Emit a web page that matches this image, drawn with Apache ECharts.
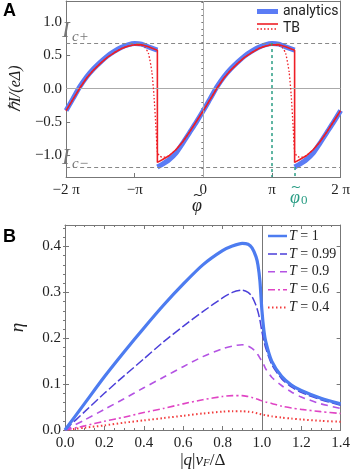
<!DOCTYPE html>
<html><head><meta charset="utf-8">
<script src="https://cdn.jsdelivr.net/npm/echarts@6/dist/echarts.min.js"></script>
<style>html,body{margin:0;padding:0;background:#fff}#c{width:353px;height:474px}</style>
</head><body><div id="c"></div>
<script>
// ---------- Panel A data (phase in units of pi) ----------
const phiTicksA = [-2, -1, 0, 1, 2];
const phiTickLabelsA = ['\u22122 \u03c0', '\u2212\u03c0', '0', '\u03c0', '2 \u03c0'];
const IcPlus = 0.687;
const IcMinus = -1.18;
const phi0 = 1.337;

const phiAnalytics = [-2,-1.9,-1.8,-1.7,-1.6,-1.5,-1.4,-1.3,-1.2,-1.1,-1.0,-0.9,-0.8,-0.67,
  -0.67,
  -0.67,-0.6,-0.5,-0.4,-0.3,-0.2,-0.1,0,0.1,0.2,0.3,0.4,0.5,0.6,0.7,0.8,0.9,1.0,1.1,1.2,1.33,
  1.33,
  1.33,1.4,1.5,1.6,1.7,1.8,1.9,2.0];
const analytics = [-0.33,-0.15,0.03,0.18,0.30,0.40,0.49,0.56,0.62,0.66,0.68,0.67,0.63,0.58,
  null,
  -1.18,-1.14,-1.07,-0.97,-0.82,-0.66,-0.50,-0.33,-0.15,0.03,0.18,0.30,0.40,0.49,0.56,0.62,0.66,0.68,0.67,0.63,0.58,
  null,
  -1.18,-1.14,-1.07,-0.97,-0.82,-0.66,-0.50,-0.33];

const phiTB = [-2,-1.9,-1.8,-1.7,-1.6,-1.5,-1.4,-1.3,-1.2,-1.1,-1.0,-0.9,-0.8,-0.67,
  -0.67,-0.6,-0.5,-0.4,-0.3,-0.2,-0.1,0,0.1,0.2,0.3,0.4,0.5,0.6,0.7,0.8,0.9,1.0,1.1,1.2,1.33,
  1.33,1.4,1.5,1.6,1.7,1.8,1.9,2.0];
const tbSolid = [-0.33,-0.16,0.01,0.16,0.28,0.38,0.47,0.54,0.60,0.64,0.66,0.66,0.63,0.58,
  -1.11,-1.07,-1.01,-0.92,-0.80,-0.65,-0.49,-0.33,-0.16,0.01,0.16,0.28,0.38,0.47,0.54,0.60,0.64,0.66,0.66,0.63,0.58,
  -1.11,-1.07,-1.01,-0.92,-0.80,-0.65,-0.49,-0.33];

const phiTBdot = [-2,-1.9,-1.8,-1.7,-1.6,-1.5,-1.4,-1.3,-1.2,-1.1,-1.0,-0.9,-0.85,-0.8,-0.75,-0.72,-0.69,-0.67,-0.64,-0.6,-0.55,-0.5,
  -0.4,-0.3,-0.2,-0.1,0,0.1,0.2,0.3,0.4,0.5,0.6,0.7,0.8,0.9,1.0,1.1,1.15,1.2,1.25,1.28,1.31,1.33,1.36,1.4,1.45,1.5,
  1.6,1.7,1.8,1.9,2.0];
const tbDotted = [-0.33,-0.16,0.01,0.16,0.28,0.38,0.47,0.54,0.60,0.64,0.66,0.65,0.62,0.53,0.25,-0.10,-0.60,-0.95,-1.01,-1.03,-1.03,-1.01,
  -0.92,-0.80,-0.65,-0.49,-0.33,-0.16,0.01,0.16,0.28,0.38,0.47,0.54,0.60,0.64,0.66,0.65,0.62,0.53,0.25,-0.10,-0.60,-0.95,-1.01,-1.03,-1.03,-1.01,
  -0.92,-0.80,-0.65,-0.49,-0.33];

// ---------- Panel B data ----------
const q = [0,0.1,0.2,0.3,0.4,0.5,0.6,0.7,0.8,0.85,0.9,0.93,0.95,0.97,0.98,0.99,1.0,1.01,1.02,1.05,1.1,1.15,1.2,1.3,1.4];
const etaT1   = [0,0.058,0.116,0.170,0.222,0.272,0.318,0.360,0.391,0.401,0.407,0.405,0.397,0.378,0.360,0.325,0.262,0.218,0.192,0.150,0.117,0.098,0.086,0.069,0.057];
const etaT099 = [0,0.040,0.080,0.118,0.155,0.192,0.226,0.258,0.288,0.300,0.305,0.300,0.291,0.272,0.258,0.240,0.215,0.195,0.178,0.143,0.112,0.094,0.082,0.066,0.054];
const etaT09  = [0,0.022,0.045,0.068,0.092,0.115,0.138,0.160,0.177,0.183,0.186,0.183,0.178,0.170,0.164,0.157,0.150,0.142,0.133,0.115,0.097,0.083,0.072,0.057,0.047];
const etaT06  = [0,0.009,0.019,0.028,0.038,0.047,0.057,0.066,0.073,0.075,0.075,0.073,0.071,0.068,0.067,0.065,0.064,0.062,0.061,0.058,0.052,0.048,0.045,0.040,0.036];
const etaT04  = [0,0.005,0.010,0.016,0.021,0.026,0.031,0.036,0.040,0.041,0.041,0.040,0.039,0.037,0.036,0.035,0.034,0.033,0.032,0.030,0.027,0.025,0.023,0.020,0.018];
const legendB = ['1', '0.99', '0.9', '0.6', '0.4'];

// ---------- styles ----------
const SERIF = 'Liberation Serif';
const AX = '#777';
const BLUE = '#5b7cf5';
const RED = '#ee1f26';
const GREEN = '#2a9d84';
const colorsB = ['#4d7cf0', '#4b3fd9', '#b453e3', '#e044c4', '#f23c3c'];
const dashB = ['solid', [9, 3], [7, 5], [7, 3, 2, 3], [1.5, 2.5]];
const widthB = [3.2, 1.5, 1.6, 1.6, 2];

const pairs = (xs, ys) => xs.map((x, i) => [x, ys[i] === null ? '-' : ys[i]]);
const minus = s => String(s).replace('-', '\u2212');
const range = (a, b, s) => { const r = []; for (let v = a; v <= b + 1e-9; v += s) r.push(+v.toFixed(4)); return r; };

const majorA = [-1, -0.5, 0, 0.5, 1];
const minorA = range(-1.3, 1.3, 0.1);
const majorB = [0, 0.1, 0.2, 0.3, 0.4];
const minorB = range(0, 0.44, 0.02);

const tickLbl = { fontFamily: SERIF, fontSize: 15, color: '#222' };
const hide = { show: false };

function yAx(grid, min, max, opts) {
  return Object.assign({ gridIndex: grid, type: 'value', min: min, max: max,
    axisLine: { show: false }, axisTick: hide, axisLabel: hide, splitLine: hide }, opts);
}
function tildeSym(cx, cy, size, color) {
  // phi with tilde accent drawn as two text pieces
  return [
    { type: 'text', x: cx, y: cy, style: { text: '\u03c6', font: 'italic ' + size + 'px "Liberation Serif"', fill: color, align: 'center', verticalAlign: 'middle' } },
    { type: 'text', x: cx + 1, y: cy - size * 0.55, style: { text: '~', font: Math.round(size * 0.7) + 'px "DejaVu Sans"', fill: color, align: 'center', verticalAlign: 'middle' } }
  ];
}
function icLabel(x, y, sub) {
  return [
    { type: 'text', x: x, y: y, style: { text: 'I', font: 'italic 23px "Liberation Serif"', fill: '#777', verticalAlign: 'middle' } },
    { type: 'text', x: x + 10, y: y + 6, style: { text: sub, font: 'italic 15px "Liberation Serif"', fill: '#777', verticalAlign: 'middle' } }
  ];
}

const chart = echarts.init(document.getElementById('c'));
chart.setOption({
  animation: false,
  grid: [
    { left: 49, top: 1, width: 295, height: 176 },
    { left: 49, top: 225, width: 295, height: 205 }
  ],
  xAxis: [
    { gridIndex: 0, type: 'value', min: -2, max: 2, interval: 1,
      axisLine: { show: true, onZero: false, lineStyle: { color: AX } },
      axisTick: { show: true, inside: true, length: 4, lineStyle: { color: AX } },
      axisLabel: Object.assign({ margin: 6, formatter: v => phiTickLabelsA[phiTicksA.indexOf(v)] || '' }, tickLbl),
      splitLine: hide },
    { gridIndex: 0, type: 'value', position: 'top', min: -2, max: 2,
      axisLine: { show: true, onZero: false, lineStyle: { color: AX } }, axisTick: hide, axisLabel: hide, splitLine: hide },
    { gridIndex: 1, type: 'value', min: 0, max: 1.4, interval: 0.2,
      axisLine: { show: true, onZero: false, lineStyle: { color: AX } },
      axisTick: { show: true, inside: true, length: 4, lineStyle: { color: AX } },
      minorTick: { show: true, splitNumber: 4, length: 2, lineStyle: { color: AX } },
      axisLabel: Object.assign({ margin: 6, formatter: v => v.toFixed(1) }, tickLbl),
      splitLine: hide,
      name: '|{i|q}|{i|v}{s|F}/\u0394', nameLocation: 'middle', nameGap: 22,
      nameTextStyle: { fontFamily: SERIF, fontSize: 17, color: '#222', verticalAlign: 'top',
        rich: { i: { fontFamily: SERIF, fontStyle: 'italic', fontSize: 17, color: '#222' },
                s: { fontFamily: SERIF, fontStyle: 'italic', fontSize: 11, color: '#222', verticalAlign: 'bottom', padding: [6, 0, 0, 0] } } } },
    { gridIndex: 1, type: 'value', position: 'top', min: 0, max: 1.4, interval: 0.2,
      axisLine: { show: true, onZero: false, lineStyle: { color: AX } },
      axisTick: { show: true, inside: true, length: 4, lineStyle: { color: AX } },
      minorTick: { show: true, splitNumber: 4, length: 2, lineStyle: { color: AX } },
      axisLabel: hide, splitLine: hide }
  ],
  yAxis: [
    yAx(0, -1.33, 1.32, {
      axisLine: { show: true, onZero: false, lineStyle: { color: AX } },
      axisTick: { show: true, inside: true, length: 4, customValues: majorA, lineStyle: { color: AX } },
      axisLabel: Object.assign({ show: true, margin: 4, customValues: majorA, formatter: v => minus(v.toFixed(1)) }, tickLbl),
      name: '\u210fI/(e\u0394)', nameLocation: 'middle', nameGap: 33, nameRotate: 90,
      nameTextStyle: { fontFamily: SERIF, fontStyle: 'italic', fontSize: 16, color: '#222' } }),
    yAx(0, -1.33, 1.32, { axisTick: { show: true, inside: true, length: 2, customValues: minorA, lineStyle: { color: AX } } }),
    yAx(0, -1.33, 1.32, { position: 'right', axisLine: { show: true, onZero: false, lineStyle: { color: AX } } }),
    yAx(1, 0, 0.447, {
      axisLine: { show: true, onZero: false, lineStyle: { color: AX } },
      axisTick: { show: true, inside: true, length: 4, customValues: majorB, lineStyle: { color: AX } },
      axisLabel: Object.assign({ show: true, margin: 4, customValues: majorB, formatter: v => v.toFixed(1) }, tickLbl),
      name: '\u03b7', nameLocation: 'middle', nameGap: 38, nameRotate: 90,
      nameTextStyle: { fontFamily: SERIF, fontStyle: 'italic', fontSize: 19, color: '#222' } }),
    yAx(1, 0, 0.447, { axisTick: { show: true, inside: true, length: 2, customValues: minorB, lineStyle: { color: AX } } }),
    yAx(1, 0, 0.447, { position: 'right', axisLine: { show: true, onZero: false, lineStyle: { color: AX } },
      axisTick: { show: true, inside: true, length: 4, customValues: majorB, lineStyle: { color: AX } } }),
    yAx(1, 0, 0.447, { position: 'right',
      axisTick: { show: true, inside: true, length: 2, customValues: minorB, lineStyle: { color: AX } } })
  ],
  series: [
    // reference lines panel A
    { type: 'line', xAxisIndex: 0, yAxisIndex: 0, data: [], z: 1, silent: true,
      markLine: { silent: true, symbol: 'none', label: hide, animation: false,
        data: [
          { yAxis: 0, lineStyle: { color: '#aaa', width: 1, type: 'solid' } },
          { xAxis: 0, lineStyle: { color: '#aaa', width: 1, type: 'solid' } },
          { yAxis: IcPlus, lineStyle: { color: '#888', width: 1, type: [4, 3] } },
          { yAxis: IcMinus, lineStyle: { color: '#888', width: 1, type: [4, 3] } },
          [{ coord: [1, IcPlus], lineStyle: { color: GREEN, width: 1.5, type: [3, 3] } }, { coord: [1, -1.33] }],
          [{ coord: [phi0, IcMinus], lineStyle: { color: GREEN, width: 1.5, type: [3, 3] } }, { coord: [phi0, -1.33] }]
        ] } },
    { name: 'analytics', type: 'line', xAxisIndex: 0, yAxisIndex: 0, data: pairs(phiAnalytics, analytics),
      showSymbol: false, smooth: 0.25, z: 3, lineStyle: { color: BLUE, width: 5 } },
    { name: 'TB', type: 'line', xAxisIndex: 0, yAxisIndex: 0, data: pairs(phiTB, tbSolid),
      showSymbol: false, z: 4, lineStyle: { color: RED, width: 1.6 } },
    { name: 'TB dotted', type: 'line', xAxisIndex: 0, yAxisIndex: 0, data: pairs(phiTBdot, tbDotted),
      showSymbol: false, smooth: 0.2, z: 5, lineStyle: { color: RED, width: 1.3, type: [1.5, 2] } },
    // panel B
    { type: 'line', xAxisIndex: 2, yAxisIndex: 3, data: [], z: 1, silent: true,
      markLine: { silent: true, symbol: 'none', label: hide, animation: false,
        data: [{ xAxis: 1, lineStyle: { color: '#777', width: 1, type: 'solid' } }] } }
  ].concat([etaT1, etaT099, etaT09, etaT06, etaT04].map((ys, k) => ({
    name: 'T = ' + legendB[k], type: 'line', xAxisIndex: 2, yAxisIndex: 3, data: pairs(q, ys),
    showSymbol: false, smooth: 0.25, z: 10 - k,
    lineStyle: { color: colorsB[k], width: widthB[k], type: dashB[k] }
  }))),
  graphic: [
    { type: 'text', left: 3, top: 2, style: { text: 'A', font: 'bold 18px "Liberation Sans"', fill: '#000' } },
    { type: 'text', left: 3, top: 228, style: { text: 'B', font: 'bold 18px "Liberation Sans"', fill: '#000' } },
    // phi0 subscript
    { type: 'text', x: 301, y: 194, style: { text: '0', font: '13px "Liberation Serif"', fill: GREEN } },
    // legend A
    { type: 'line', shape: { x1: 257, y1: 11.5, x2: 278, y2: 11.5 }, style: { stroke: BLUE, lineWidth: 5 } },
    { type: 'text', x: 283, y: 11.5, style: { text: 'analytics', font: '14px Roboto', fill: '#222', verticalAlign: 'middle' } },
    { type: 'line', shape: { x1: 257, y1: 24, x2: 278, y2: 24 }, style: { stroke: RED, lineWidth: 1.6 } },
    { type: 'line', shape: { x1: 257, y1: 29, x2: 278, y2: 29 }, style: { stroke: RED, lineWidth: 1.3, lineDash: [1.5, 2] } },
    { type: 'text', x: 283, y: 28, style: { text: 'TB', font: '14px Roboto', fill: '#222', verticalAlign: 'middle' } }
  ].concat(icLabel(62, 31, 'c+'), icLabel(62, 158, 'c\u2212'))
   .concat(tildeSym(197, 206, 18, '#222'), tildeSym(295, 198, 18, GREEN))
   .concat(legendB.map((t, k) => {
    const y = 236 + k * 17.9;
    return [
      { type: 'line', shape: { x1: 268, y1: y, x2: 287, y2: y },
        style: { stroke: colorsB[k], lineWidth: Math.min(widthB[k], 2.5), lineDash: dashB[k] === 'solid' ? null : dashB[k] } },
      { type: 'text', x: 289, y: y, style: { text: '{i|T} = ' + t, verticalAlign: 'middle', fill: '#222',
        font: '14px "Liberation Serif"',
        rich: { i: { fontFamily: SERIF, fontStyle: 'italic', fontSize: 14, fill: '#222' } } } }
    ];
  }).flat())
});
</script></body></html>
